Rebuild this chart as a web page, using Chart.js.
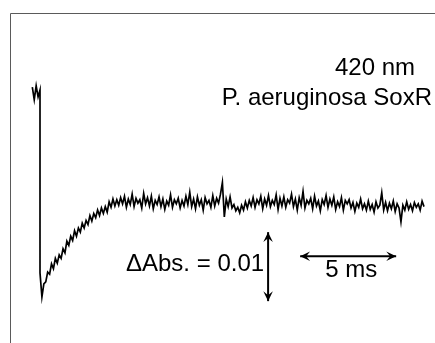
<!DOCTYPE html>
<html>
<head>
<meta charset="utf-8">
<script src="https://cdn.jsdelivr.net/npm/chart.js@4.4.0/dist/chart.umd.min.js"></script>
<style>
  html, body { margin: 0; padding: 0; background: #fff; }
  #wrap { width: 435px; height: 343px; }
</style>
</head>
<body>
<div id="wrap"><canvas id="traza" width="435" height="343"></canvas></div>
<script>
// Tiempo de cada muestra (ms); el 0.0 repetido es el salto del flash
const tiempos = [
  -0.4, -0.3, -0.2, -0.1, 0.0, 0.0,
  0.1, 0.2, 0.3, 0.4, 0.5, 0.6, 0.7, 0.8, 0.9, 1.0,
  1.1, 1.2, 1.3, 1.4, 1.5, 1.6, 1.7, 1.8, 1.9, 2.0,
  2.1, 2.2, 2.3, 2.4, 2.5, 2.6, 2.7, 2.8, 2.9, 3.0,
  3.1, 3.2, 3.3, 3.4, 3.5, 3.6, 3.7, 3.8, 3.9, 4.0,
  4.1, 4.2, 4.3, 4.4, 4.5, 4.6, 4.7, 4.8, 4.9, 5.0,
  5.1, 5.2, 5.3, 5.4, 5.5, 5.6, 5.7, 5.8, 5.9, 6.0,
  6.1, 6.2, 6.3, 6.4, 6.5, 6.6, 6.7, 6.8, 6.9, 7.0,
  7.1, 7.2, 7.3, 7.4, 7.5, 7.6, 7.7, 7.8, 7.9, 8.0,
  8.1, 8.2, 8.3, 8.4, 8.5, 8.6, 8.7, 8.8, 8.9, 9.0,
  9.1, 9.2, 9.3, 9.4, 9.5, 9.6, 9.7, 9.8, 9.9, 10.0,
  10.1, 10.2, 10.3, 10.4, 10.5, 10.6, 10.7, 10.8, 10.9, 11.0,
  11.1, 11.2, 11.3, 11.4, 11.5, 11.6, 11.7, 11.8, 11.9, 12.0,
  12.1, 12.2, 12.3, 12.4, 12.5, 12.6, 12.7, 12.8, 12.9, 13.0,
  13.1, 13.2, 13.3, 13.4, 13.5, 13.6, 13.7, 13.8, 13.9, 14.0,
  14.1, 14.2, 14.3, 14.4, 14.5, 14.6, 14.7, 14.8, 14.9, 15.0,
  15.1, 15.2, 15.3, 15.4, 15.5, 15.6, 15.7, 15.8, 15.9, 16.0,
  16.1, 16.2, 16.3, 16.4, 16.5, 16.6, 16.7, 16.8, 16.9, 17.0,
  17.1, 17.2, 17.3, 17.4, 17.5, 17.6, 17.7, 17.8, 17.9, 18.0,
  18.1, 18.2, 18.3, 18.4, 18.5, 18.6, 18.7, 18.8, 18.9, 19.0,
  19.1, 19.2, 19.3, 19.4, 19.5, 19.6, 19.7, 19.8, 19.9, 20.0
];

// Absorbancia relativa (mAbs, 0 = minimo tras el flash)
const absorbancia = [
  30.4, 28.6, 30.6, 29.0, 30.0, 3.5,
  0.0, 1.9, 2.2, 3.6, 3.3, 4.8, 4.1, 5.6, 4.9, 6.1,
  5.6, 7.0, 6.4, 8.1, 7.5, 8.8, 8.2, 9.6, 8.8, 10.0,
  9.4, 10.7, 10.0, 11.1, 10.5, 11.8, 11.0, 12.1, 11.5, 12.6,
  11.8, 12.9, 12.1, 13.1, 12.3, 13.8, 13.0, 14.2, 13.2, 14.1,
  13.3, 14.4, 13.5, 14.6, 13.0, 14.2, 13.4, 14.9, 13.1, 14.3,
  13.6, 14.1, 12.9, 15.0, 13.5, 14.4, 13.2, 14.6, 12.8, 14.0,
  13.4, 14.5, 13.1, 14.2, 12.7, 13.9, 13.3, 14.8, 13.0, 14.1,
  13.5, 14.3, 12.9, 14.0, 13.2, 14.6, 13.4, 15.2, 13.1, 14.2,
  12.8, 14.5, 13.3, 14.1, 12.6, 14.4, 13.5, 14.0, 13.0, 14.7,
  13.2, 14.3, 13.6, 14.9, 16.6, 11.6, 14.2, 13.1, 14.5, 12.9,
  13.4, 12.5, 13.0, 12.2, 13.3, 12.6, 13.8, 12.9, 14.0, 13.2,
  14.4, 13.0, 14.1, 13.5, 14.6, 12.8, 14.2, 13.3, 14.7, 13.1,
  14.0, 13.4, 14.8, 12.7, 14.3, 13.2, 14.5, 13.0, 14.1, 13.6,
  14.9, 13.1, 14.2, 12.6, 14.4, 13.3, 15.3, 12.9, 14.0, 13.5,
  14.3, 12.8, 14.6, 13.2, 13.9, 12.5, 14.1, 13.4, 14.7, 13.0,
  14.2, 13.3, 14.5, 12.7, 13.8, 13.1, 14.4, 12.6, 14.0, 13.5,
  14.1, 12.9, 13.7, 12.4, 13.6, 13.0, 14.2, 12.8, 13.5, 12.6,
  13.9, 12.7, 13.4, 12.3, 13.8, 12.9, 13.3, 15.1, 12.6, 13.7,
  12.5, 13.6, 12.8, 13.9, 12.4, 13.5, 12.9, 10.9, 13.3, 12.6,
  13.8, 12.7, 13.4, 12.5, 13.7, 13.0, 13.5, 12.6, 13.9, 13.1
];

// Barras de escala: 5 ms en x, 0.01 Abs (10 mAbs) en y
const escalaTiempo = { desde: 13.55, hasta: 18.55, y: 5.9 };
const escalaAbs = { x: 11.88, desde: -0.6, hasta: 9.4 };

const fuente = "24px 'Liberation Sans', Arial, sans-serif";

function flecha(ctx, x1, y1, x2, y2) {
  const ang = Math.atan2(y2 - y1, x2 - x1);
  const largo = 11, abre = 0.45;
  ctx.beginPath();
  ctx.moveTo(x1, y1);
  ctx.lineTo(x2, y2);
  ctx.stroke();
  [[x1, y1, ang + Math.PI], [x2, y2, ang]].forEach(([px, py, a]) => {
    ctx.beginPath();
    ctx.moveTo(px, py);
    ctx.lineTo(px - largo * Math.cos(a - abre), py - largo * Math.sin(a - abre));
    ctx.lineTo(px - 6 * Math.cos(a), py - 6 * Math.sin(a));
    ctx.lineTo(px - largo * Math.cos(a + abre), py - largo * Math.sin(a + abre));
    ctx.closePath();
    ctx.fill();
  });
}

// Marco gris, barras de escala y textos
const anotaciones = {
  id: "anotaciones",
  beforeDatasetsDraw(chart) {
    const { ctx, chartArea } = chart;
    ctx.save();
    ctx.strokeStyle = "#5a5a5a";
    ctx.lineWidth = 1;
    ctx.beginPath();
    ctx.moveTo(chartArea.left + 0.5, chartArea.bottom);
    ctx.lineTo(chartArea.left + 0.5, chartArea.top + 0.5);
    ctx.lineTo(chartArea.right, chartArea.top + 0.5);
    ctx.stroke();
    ctx.restore();
  },
  afterDraw(chart) {
    const { ctx } = chart;
    const xs = chart.scales.x, ys = chart.scales.y;
    ctx.save();
    ctx.strokeStyle = "#000";
    ctx.fillStyle = "#000";
    ctx.lineWidth = 2;

    const hx1 = xs.getPixelForValue(escalaTiempo.desde);
    const hx2 = xs.getPixelForValue(escalaTiempo.hasta);
    const hy = ys.getPixelForValue(escalaTiempo.y);
    flecha(ctx, hx1, hy, hx2, hy);

    const vx = xs.getPixelForValue(escalaAbs.x);
    const vy1 = ys.getPixelForValue(escalaAbs.desde);
    const vy2 = ys.getPixelForValue(escalaAbs.hasta);
    flecha(ctx, vx, vy1, vx, vy2);

    ctx.font = fuente;
    ctx.textBaseline = "alphabetic";
    ctx.textAlign = "center";
    ctx.fillText("5 ms", (hx1 + hx2) / 2 + 3, 277);
    ctx.textAlign = "right";
    ctx.fillText("\u0394Abs. = 0.01", vx - 4, 271);
    ctx.fillText("420 nm", 415, 75);
    ctx.fillText("P. aeruginosa SoxR", 432, 105);
    ctx.restore();
  }
};

document.addEventListener("DOMContentLoaded", () => {
  const canvas = document.getElementById("traza");
  const puntos = tiempos.map((t, i) => ({ x: t, y: absorbancia[i] }));

  new Chart(canvas.getContext("2d"), {
    type: "line",
    data: {
      datasets: [{
        data: puntos,
        borderColor: "#000",
        borderWidth: 1.7,
        pointRadius: 0,
        tension: 0,
        fill: false
      }]
    },
    options: {
      responsive: false,
      animation: false,
      devicePixelRatio: 1,
      layout: { padding: { left: 10, top: 13, right: 0, bottom: 0 } },
      plugins: { legend: { display: false }, tooltip: { enabled: false } },
      scales: {
        x: { type: "linear", display: false, min: -1.5625, max: 20.573 },
        y: { display: false, min: -6.667, max: 41.16 }
      }
    },
    plugins: [anotaciones]
  });
});
</script>
</body>
</html>
